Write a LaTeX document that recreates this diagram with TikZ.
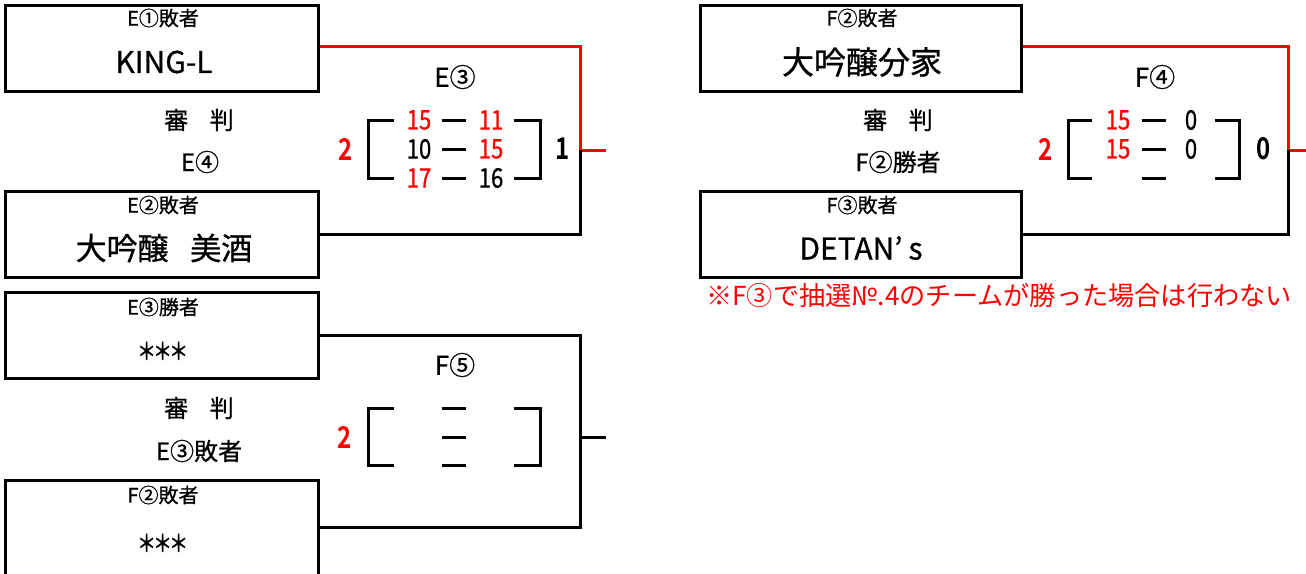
\documentclass[tikz,border=0pt]{standalone}
\usepackage{fontspec}
\setmainfont{Noto Sans CJK JP}[FakeBold=0.8]
\newfontfamily\plainf{Noto Sans CJK JP}
\newfontfamily\nf{Noto Sans CJK JP}[FakeStretch=0.82,FakeBold=0.8]
\newfontfamily\bnf{Noto Sans CJK JP Bold}[FakeStretch=0.8]
\definecolor{rd}{RGB}{255,0,0}
\newcommand{\stars}{＊\hspace{-0.15em}＊\hspace{-0.15em}＊}
\begin{document}
\begin{tikzpicture}[x=1pt,y=-1pt,
  box/.style={draw=black,line width=3pt,minimum width=313pt,minimum height=86pt,inner sep=0pt},
  lbl/.style={font=\fontsize{20}{20}\selectfont,inner sep=0pt},
  team/.style={font=\fontsize{30}{30}\selectfont,inner sep=0pt},
  starsty/.style={font=\bnf\fontsize{24}{24}\selectfont,inner sep=0pt},
  judge/.style={font=\fontsize{24}{24}\selectfont,inner sep=0pt},
  game/.style={font=\fontsize{26}{26}\selectfont,inner sep=0pt},
  sc/.style={font=\nf\fontsize{27}{27}\selectfont,inner sep=0pt},
  big/.style={font=\bnf\fontsize{30}{30}\selectfont,inner sep=0pt},
  ln/.style={line width=3pt},
  redln/.style={line width=3pt,draw=rd},
  brk/.style={line width=3pt}]
\useasboundingbox (0,0) rectangle (1306,573);
\fill[white] (0,0) rectangle (1306,573);

% ===== Block E3 =====
\node[box] (a1) at (161.5,48) {};
\node[box] (a2) at (161.5,234.5) {};
\node[lbl] (a1l) at (163,18) {E①敗者};
\node[team] (a1t) at (164,62) {KING-L};
\node[lbl] (a2l) at (163,205) {E②敗者};
\node[team,font=\fontsize{31}{31}\selectfont] (a2t) at (164,248) {大吟醸\hspace{0.7em}美酒};
\node[judge] (aj1) at (199,120) {審\hspace{0.9em}判};
\node[judge] (aj2) at (200,162) {E④};
\node[game] (ag) at (455,77) {E③};
\coordinate (aj) at (580,150);
\coordinate (ao) at (606,150);
\draw[redln] (a1.east |- 0,46) -| (aj) -- (ao);
\draw[ln] (a2.east) -| (aj);
\draw[brk] (394,120) -- (368,120) -- (368,178) -- (394,178);
\draw[brk] (514,120) -- (540,120) -- (540,178) -- (514,178);
\foreach \yy in {120,149,178} \draw[brk] (442,\yy) -- (466,\yy);
\node[sc,text=rd] (as11) at (419,120) {15};
\node[sc,text=rd] (as12) at (491,120) {11};
\node[sc] (as21) at (419,149) {10};
\node[sc,text=rd] (as22) at (491,149) {15};
\node[sc,text=rd] (as31) at (419,178) {17};
\node[sc] (as32) at (491,178) {16};
\node[big,text=rd] (aw) at (346,149) {2};
\node[big] (al) at (563,149) {1};

% ===== Block F5 =====
\node[box] (b1) at (161.5,335.5) {};
\node[box,minimum height=95pt] (b2) at (161.5,527.5) {};
\node[lbl] (b1l) at (163,307) {E③勝者};
\node[starsty] (b1t) at (163,351) {\stars};
\node[lbl] (b2l) at (163,495) {F②敗者};
\node[starsty] (b2t) at (163,543) {\stars};
\node[judge] (bj1) at (199,408) {審\hspace{0.9em}判};
\node[judge] (bj2) at (199,451) {E③敗者};
\node[game] (bg) at (455,365) {F⑤};
\coordinate (bj) at (580,437);
\coordinate (bo) at (606,437);
\draw[ln] (b1.east) -| (bj) -- (bo);
\draw[ln] (b2.east) -| (bj);
\draw[brk] (394,408) -- (368,408) -- (368,465) -- (394,465);
\draw[brk] (514,408) -- (540,408) -- (540,465) -- (514,465);
\foreach \yy in {408,437,465} \draw[brk] (442,\yy) -- (466,\yy);
\node[big,text=rd] (bw) at (345,437) {2};

% ===== Block F4 =====
\node[box,minimum width=321pt] (c1) at (860.5,48) {};
\node[box,minimum width=321pt] (c2) at (860.5,234.5) {};
\node[lbl] (c1l) at (862,18) {F②敗者};
\node[team,font=\fontsize{32}{32}\selectfont] (c1t) at (862,62) {大吟醸分家};
\node[lbl] (c2l) at (862,205) {F③敗者};
\node[team] (c2t) at (861,248) {DETAN’\hspace{0.2em}s};
\node[judge] (cj1) at (898,120) {審\hspace{0.9em}判};
\node[judge] (cj2) at (898,162) {F②勝者};
\node[game] (cg) at (1155,77) {F④};
\coordinate (cj) at (1288,150);
\coordinate (co) at (1310,150);
\draw[redln] (c1.east |- 0,46) -| (cj) -- (co);
\draw[ln] (c2.east) -| (cj);
\draw[brk] (1092,120) -- (1068,120) -- (1068,178) -- (1092,178);
\draw[brk] (1215,120) -- (1239,120) -- (1239,178) -- (1215,178);
\foreach \yy in {120,149,178} \draw[brk] (1142,\yy) -- (1166,\yy);
\node[sc,text=rd] (cs11) at (1118,120) {15};
\node[sc] (cs12) at (1191,120) {0};
\node[sc,text=rd] (cs21) at (1118,149) {15};
\node[sc] (cs22) at (1191,149) {0};
\node[big,text=rd] (cw) at (1046,149) {2};
\node[big] (cl) at (1264,149) {0};
\node[anchor=west,inner sep=0pt,text=rd,font=\plainf\fontsize{26.2}{26.2}\selectfont] (note) at (706,296) {※F③で抽選№.4のチームが勝った場合は行わない};
\end{tikzpicture}
\end{document}
